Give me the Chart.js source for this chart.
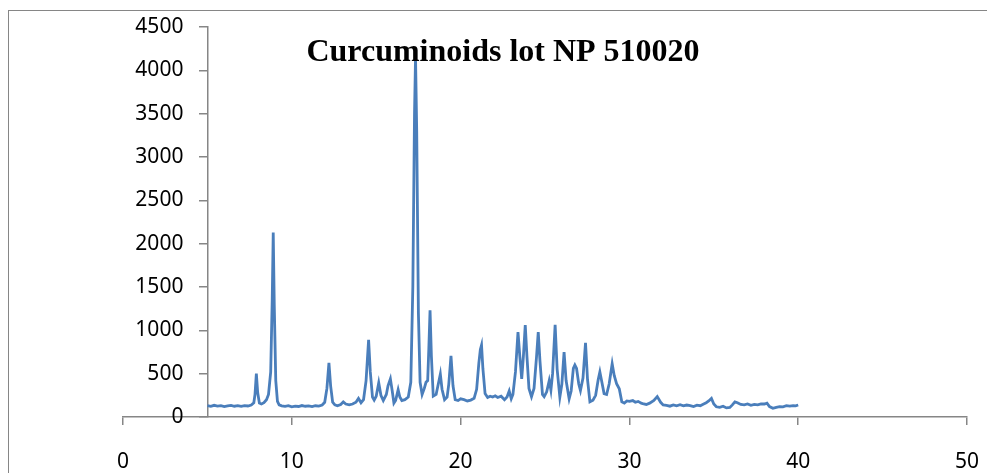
<!DOCTYPE html>
<html>
<head>
<meta charset="utf-8">
<script src="https://cdn.jsdelivr.net/npm/chart.js@4"></script>
<style>
  html, body { margin: 0; padding: 0; background: #fff; }
  canvas { display: block; }
</style>
</head>
<body>
<canvas id="xrd" width="987" height="473"></canvas>
<script>
// 2-theta (deg) and intensity
var twoTheta = [
  5.0, 5.2, 5.4, 5.6, 5.8, 6.0, 6.2, 6.4, 6.6, 6.8, 7.0, 7.2, 7.4, 7.6, 7.75,
  7.82, 7.9, 7.98, 8.08, 8.2, 8.35, 8.5, 8.62, 8.75, 8.84, 8.9, 8.96, 9.05, 9.15, 9.25,
  9.4, 9.6, 9.8, 10.0, 10.2, 10.4, 10.6, 10.8, 11.0, 11.2, 11.4, 11.6, 11.8, 11.95,
  12.08, 12.2, 12.3, 12.42, 12.55, 12.7, 12.9, 13.05, 13.2, 13.4, 13.6, 13.8, 13.95,
  14.1, 14.25, 14.4, 14.55, 14.65, 14.78, 14.88, 15.0, 15.15, 15.28, 15.42, 15.6, 15.7,
  15.84, 15.95, 16.05, 16.15, 16.3, 16.4, 16.52, 16.7, 16.9, 17.05, 17.17, 17.27, 17.33,
  17.4, 17.5, 17.6, 17.72, 17.85, 17.95, 18.05, 18.12, 18.19, 18.27, 18.38, 18.55, 18.7,
  18.8, 18.9, 19.05, 19.2, 19.3, 19.43, 19.55, 19.68, 19.85, 20.0, 20.2, 20.4, 20.6,
  20.8, 20.95, 21.08, 21.17, 21.24, 21.32, 21.45, 21.6, 21.75, 21.9, 22.05, 22.2, 22.4,
  22.6, 22.75, 22.88, 23.0, 23.1, 23.25, 23.4, 23.5, 23.62, 23.72, 23.83, 23.93, 24.05,
  24.2, 24.35, 24.5, 24.6, 24.7, 24.85, 24.95, 25.1, 25.25, 25.35, 25.45, 25.6, 25.72,
  25.88, 26.0, 26.13, 26.25, 26.43, 26.55, 26.68, 26.77, 26.87, 27.0, 27.1, 27.25, 27.4,
  27.52, 27.66, 27.84, 28.0, 28.15, 28.25, 28.35, 28.5, 28.65, 28.8, 28.98, 29.1, 29.24,
  29.4, 29.55, 29.7, 29.85, 30.0, 30.2, 30.35, 30.52, 30.7, 30.85, 31.0, 31.2, 31.45,
  31.65, 31.85, 32.0, 32.2, 32.4, 32.6, 32.8, 33.0, 33.2, 33.4, 33.6, 33.8, 34.0, 34.2,
  34.4, 34.55, 34.7, 34.86, 35.0, 35.15, 35.35, 35.55, 35.75, 35.95, 36.1, 36.25, 36.4,
  36.6, 36.8, 37.0, 37.2, 37.4, 37.6, 37.8, 38.0, 38.15, 38.3, 38.5, 38.7, 38.9, 39.1,
  39.3, 39.5, 39.7, 39.85, 40.0
];
var intensity = [
  130, 122, 135, 126, 131, 120, 128, 134, 124, 130, 122, 132, 127, 138, 165,
  260, 500, 280, 160, 150, 165, 200, 260, 520, 1350, 2130, 1300, 420, 180, 140,
  128, 122, 130, 118, 126, 121, 132, 124, 128, 120, 130, 126, 138, 170,
  330, 625, 360, 170, 140, 130, 145, 175, 150, 140, 150, 170, 215,
  165, 200, 420, 890, 520, 230, 195, 240, 395, 250, 190, 260, 360,
  440, 300, 160, 190, 315, 230, 190, 200, 230, 400, 1500, 3500, 4150,
  3300, 1200, 400, 260, 330, 400, 420, 800, 1230, 700, 240, 260, 400,
  495, 320, 200, 230, 380, 705, 360, 200, 190, 210, 200, 185, 195,
  215, 320, 620, 780, 830, 560, 270, 225, 240, 230, 245, 225, 240,
  200, 230, 300, 210, 260, 520, 980, 720, 440, 700, 1060, 700, 330,
  235, 330, 700, 980, 650, 260, 235, 290, 420, 310, 500, 1065, 550,
  230, 380, 750, 420, 210, 300, 560, 600, 560, 380, 305, 450, 855,
  430, 175, 195, 250, 430, 520, 420, 270, 260, 380, 615, 480, 385,
  325, 175, 160, 185, 180, 190, 170, 180, 160, 150, 145, 160, 190,
  235, 170, 140, 135, 125, 140, 130, 142, 128, 138, 132, 120, 136, 130,
  150, 165, 185, 215, 150, 118, 112, 125, 105, 110, 140, 175, 165,
  145, 140, 150, 135, 145, 140, 152, 150, 160, 120, 100, 112, 120, 118,
  130, 125, 132, 128, 138
];
var xTicks = [0, 10, 20, 30, 40, 50];
var yTicks = [0, 500, 1000, 1500, 2000, 2500, 3000, 3500, 4000, 4500];
var yAxisAt = 5;
var titleText = 'Curcuminoids lot NP 510020';

var points = twoTheta.map(function (t, i) { return { x: t, y: intensity[i] }; });
var axisGrey = '#868686';
var tickFont = { family: '"Noto Sans", "Open Sans", sans-serif', size: 21 };

var decorations = {
  id: 'decorations',
  beforeDraw: function (chart) {
    var c = chart.ctx;
    c.save();
    c.fillStyle = '#ffffff';
    c.fillRect(0, 0, chart.width, chart.height);
    c.strokeStyle = axisGrey;
    c.lineWidth = 1;
    c.strokeRect(8.5, 10.5, chart.width + 20, chart.height + 20);
    c.restore();
  },
  afterDraw: function (chart) {
    var c = chart.ctx;
    var xs = chart.scales.x, ys = chart.scales.y;
    var axisPx = xs.getPixelForValue(yAxisAt);
    c.save();
    // y tick labels, right aligned left of the crossing axis
    c.font = '21px "Noto Sans", "Open Sans", sans-serif';
    c.fillStyle = '#000000';
    c.textAlign = 'right';
    c.textBaseline = 'middle';
    yTicks.forEach(function (v) {
      c.fillText(String(v), axisPx - 24, ys.getPixelForValue(v));
    });
    // title inside the plot
    c.font = 'bold 32px "Liberation Serif", "Times New Roman", serif';
    c.textAlign = 'center';
    c.textBaseline = 'alphabetic';
    c.fillText(titleText, 503, 61);
    c.restore();
  }
};

var ctx = document.getElementById('xrd').getContext('2d');
var chart = new Chart(ctx, {
  type: 'line',
  data: {
    datasets: [{
      label: titleText,
      data: points,
      borderColor: '#4a7ebb',
      borderWidth: 2.8,
      pointRadius: 0,
      tension: 0,
      fill: false
    }]
  },
  options: {
    responsive: false,
    animation: false,
    layout: { padding: { left: 123, right: 20, top: 27, bottom: 0 } },
    plugins: {
      legend: { display: false },
      title: { display: false },
      tooltip: { enabled: false }
    },
    scales: {
      x: {
        type: 'linear',
        min: 0,
        max: 50,
        afterBuildTicks: function (s) { s.ticks = xTicks.map(function (v) { return { value: v }; }); },
        afterFit: function (s) { s.height = 56; s.paddingLeft = 0; s.paddingRight = 0; },
        grid: { drawOnChartArea: false, tickLength: 8, color: axisGrey, lineWidth: 1.5 },
        border: { color: axisGrey, width: 1.5 },
        ticks: { color: '#000', font: tickFont, padding: 24, maxRotation: 0 }
      },
      y: {
        type: 'linear',
        position: { x: yAxisAt },
        min: 0,
        max: 4500,
        afterBuildTicks: function (s) { s.ticks = yTicks.map(function (v) { return { value: v }; }); },
        grid: { drawOnChartArea: false, tickLength: 8, color: axisGrey, lineWidth: 1.5 },
        border: { color: axisGrey, width: 1.5 },
        ticks: { display: false }
      }
    }
  },
  plugins: [decorations]
});
</script>
</body>
</html>
